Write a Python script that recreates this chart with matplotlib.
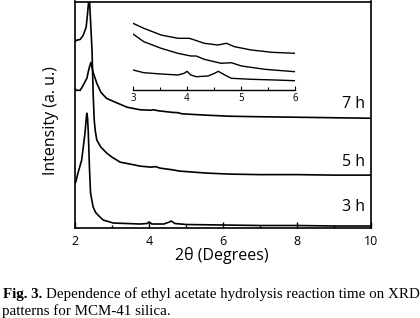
import numpy as np
import matplotlib
matplotlib.use('Agg')
import matplotlib.pyplot as plt
from matplotlib.ticker import MultipleLocator

# main patterns, 2theta vs intensity (a.u., arbitrary offset units)
theta_7h = [2.0, 2.03, 2.14, 2.22, 2.32, 2.38, 2.43, 2.49, 2.59, 2.7, 2.85, 3.03, 3.41, 3.76,
            4.05, 4.12, 4.25, 4.6, 4.8, 4.88, 5.1, 5.6, 6.2, 7.0, 8.0, 9.0, 10.0]
int_7h = [140, 138, 138, 143, 150, 160, 166, 156, 145, 136, 130, 127, 121, 118.5,
          118, 118.5, 117.5, 116, 115.5, 114.5, 114, 113, 112, 111.5, 111, 110.5, 110]

theta_5h = [2.0, 2.03, 2.14, 2.22, 2.30, 2.34, 2.385, 2.42, 2.46, 2.49, 2.52, 2.55, 2.59, 2.7,
            2.86, 3.0, 3.22, 3.5, 3.76, 4.05, 4.18, 4.3, 4.6, 4.84, 5.2, 5.57, 6.19, 7.0, 8.0,
            9.0, 10.0]
int_5h = [187, 188, 189, 193, 201, 215, 234, 208, 178, 135, 108, 97, 88, 81,
          75, 71, 66, 64, 62, 61, 61.5, 60, 58.5, 57, 56, 55, 54, 53.5, 53.5,
          53, 53]

theta_3h = [2.0, 2.02, 2.08, 2.18, 2.27, 2.30, 2.32, 2.34, 2.36, 2.39, 2.42, 2.49, 2.55, 2.62,
            2.76, 2.9, 3.03, 3.4, 3.76, 3.95, 4.0, 4.08, 4.4, 4.55, 4.6, 4.7, 5.0, 6.0, 7.0,
            8.0, 9.0, 10.0]
int_3h = [45, 46, 55, 68, 95, 108, 115, 110, 95, 61, 35, 21, 16, 13,
          8, 6.5, 5, 4.5, 4, 4.5, 6, 4, 4, 6, 7, 4.5, 3.5, 3, 2.5,
          2.5, 2, 2]

# inset (3-6 degrees)
ins_top_x = [3.0, 3.2, 3.52, 3.83, 4.04, 4.14, 4.32, 4.57, 4.73, 4.88, 5.19, 5.57, 6.0]
ins_top_y = [66.7, 61.7, 55, 51.7, 51.7, 50, 46.7, 45, 46.7, 43.3, 40, 37.7, 36.7]
ins_mid_x = [3.0, 3.2, 3.52, 3.83, 4.07, 4.17, 4.32, 4.63, 4.82, 5.01, 5.44, 6.0]
ins_mid_y = [56, 48.3, 41.7, 36.7, 34, 34, 30.7, 26.7, 27.3, 24, 20.7, 18.3]
ins_bot_x = [3.0, 3.2, 3.52, 3.83, 3.95, 4.0, 4.07, 4.17, 4.39, 4.51, 4.58, 4.7, 4.82, 5.19,
             5.63, 6.0]
ins_bot_y = [20, 17.3, 16, 15, 16.7, 18.7, 15, 13.3, 14, 16.7, 18.7, 15, 11.7, 10.7,
             10, 9.3]

labels = ['7 h', '5 h', '3 h']
label_y = [124, 66, 21]

W, H = 420, 318
fig = plt.figure(figsize=(W / 100, H / 100), dpi=100)
sans = 'Open Sans'

ax = fig.add_axes([75 / W, 1 - 228 / H, 296 / W, 226.5 / H])
for t, v in [(theta_7h, int_7h), (theta_5h, int_5h), (theta_3h, int_3h)]:
    ax.plot(t, v, color='black', lw=1.2)
ax.set_xlim(2, 10)
ax.set_ylim(0, 227)
ax.set_yticks([])
ax.xaxis.set_major_locator(MultipleLocator(2))
ax.xaxis.set_minor_locator(MultipleLocator(1))
ax.tick_params(axis='x', which='major', direction='in', length=4, width=1, pad=5,
               labelsize=9)
ax.tick_params(axis='x', which='minor', direction='in', length=2.5, width=1)
for lbl in ax.get_xticklabels():
    lbl.set_fontfamily(sans)
for s in ax.spines.values():
    s.set_linewidth(1.2)
for lab, yy in zip(labels, label_y):
    ax.text(9.84, yy, lab, ha='right', va='center', fontsize=11.5, family=sans)

ins = fig.add_axes([133 / W, 1 - 90 / H, 162 / W, 72 / H])
ins.patch.set_alpha(0)
for xs, ys in [(ins_top_x, ins_top_y), (ins_mid_x, ins_mid_y), (ins_bot_x, ins_bot_y)]:
    ins.plot(xs, ys, color='black', lw=1.0)
ins.set_xlim(3, 6)
ins.set_ylim(0, 72)
ins.set_yticks([])
for side in ['left', 'right', 'top']:
    ins.spines[side].set_visible(False)
ins.spines['bottom'].set_linewidth(1.0)
ins.xaxis.set_major_locator(MultipleLocator(1))
ins.xaxis.set_minor_locator(MultipleLocator(0.5))
ins.tick_params(axis='x', which='major', direction='in', length=3, width=0.8, pad=2,
                labelsize=7)
ins.tick_params(axis='x', which='minor', direction='in', length=2, width=0.8)
for lbl in ins.get_xticklabels():
    lbl.set_fontfamily(sans)

fig.text(51 / W, 1 - 121 / H, 'Intensity (a. u.)', rotation=90, ha='center', va='center',
         fontsize=11.5, family=sans)
fig.text(222 / W, 1 - 255 / H, '2θ (Degrees)', ha='center', va='center',
         fontsize=11.5, family=sans)

# caption
serif = 'Liberation Serif'
t1 = fig.text(3 / W, 1 - 298 / H, 'Fig. 3.', fontsize=10.8, family=serif, weight='bold',
              va='baseline')
fig.canvas.draw()
bb = t1.get_window_extent()
fig.text((bb.x1 + 4) / W, 1 - 298 / H,
         'Dependence of ethyl acetate hydrolysis reaction time on XRD',
         fontsize=10.8, family=serif, va='baseline')
fig.text(2 / W, 1 - 315 / H, 'patterns for MCM-41 silica.', fontsize=10.8, family=serif,
         va='baseline')

fig.savefig('out.png', dpi=100)
